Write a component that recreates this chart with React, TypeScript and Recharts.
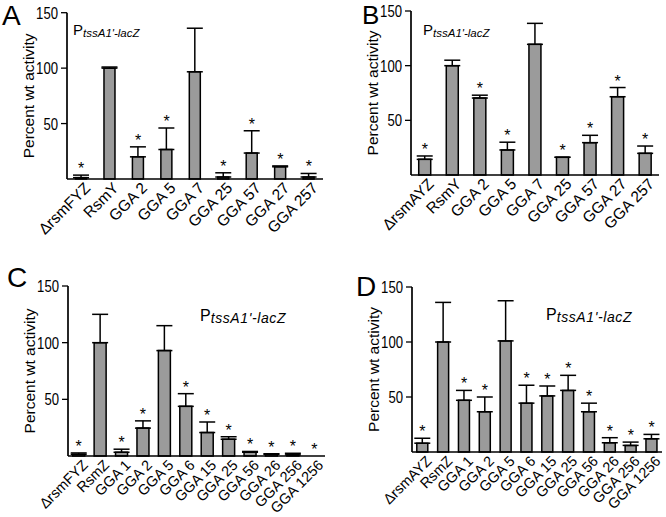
import { ComposedChart, Bar, ErrorBar, Scatter, XAxis, YAxis } from 'recharts'

// panel A
const namesA = ['ΔrsmFYZ', 'RsmY', 'GGA 2', 'GGA 5', 'GGA 7', 'GGA 25', 'GGA 57', 'GGA 27', 'GGA 257']
const valuesA = [1.2, 100, 20, 26.6, 96.7, 1.8, 23.4, 11, 1.8]
const errorsA = [2.3, 1, 9, 19.4, 39.3, 3.8, 20.1, 0.8, 3.2]
const starsA = [1, 0, 1, 1, 0, 1, 1, 1, 1]

// panel B
const namesB = ['ΔrsmAYZ', 'RsmY', 'GGA 2', 'GGA 5', 'GGA 7', 'GGA 25', 'GGA 57', 'GGA 27', 'GGA 257']
const valuesB = [14.3, 100, 70.4, 22.9, 119.5, 16.2, 29.6, 71.6, 19.8]
const errorsB = [3.1, 5, 2.6, 7.1, 19.2, 0, 6.7, 8.4, 6.7]
const starsB = [1, 0, 1, 1, 0, 1, 1, 1, 1]

// panel C
const namesC = ['ΔrsmFYZ', 'RsmZ', 'GGA 1', 'GGA 2', 'GGA 5', 'GGA 6', 'GGA 15', 'GGA 25', 'GGA 56', 'GGA 26', 'GGA 256', 'GGA 1256']
const valuesC = [1.5, 100, 3.3, 24.6, 93, 43.8, 20.7, 14.8, 3.3, 1.5, 1, 0]
const errorsC = [1.2, 25, 2.7, 6.4, 22, 11.2, 9.3, 2.2, 0.7, 0.5, 1.4, 0]
const starsC = [1, 0, 1, 1, 0, 1, 1, 1, 1, 1, 1, 1]

// panel D
const namesD = ['ΔrsmAYZ', 'RsmZ', 'GGA 1', 'GGA 2', 'GGA 5', 'GGA 6', 'GGA 15', 'GGA 25', 'GGA 56', 'GGA 26', 'GGA 256', 'GGA 1256']
const valuesD = [8, 100, 47, 36.6, 101, 44.4, 51, 56, 36.6, 8.4, 6, 12]
const errorsD = [4.5, 36, 9, 13.4, 36.5, 16.3, 9, 13.7, 7.8, 4.6, 3, 4]
const starsD = [1, 0, 1, 1, 0, 1, 1, 1, 1, 1, 1, 1]

const yTicks = [50, 100, 150]

const FONT = "'Liberation Sans', Arial, sans-serif"

function buildRows(names: string[], values: number[], errors: number[], stars: number[]) {
  return names.map((name, i) => ({
    name,
    value: values[i],
    err: [0, errors[i]],
    cap: values[i] + errors[i],
    star: stars[i] === 1,
  }))
}

function XTick({ x, y, payload, size }: any) {
  const tx = x + 10
  const ty = y + 10
  return (
    <text
      x={tx}
      y={ty}
      transform={`rotate(-45 ${tx} ${ty})`}
      textAnchor="end"
      fontSize={size}
      fontFamily={FONT}
      fill="#000"
    >
      {payload.value}
    </text>
  )
}

// tick digits in the figure are condensed, so squeeze them a bit
function YTick({ x, y, payload }: any) {
  const label = String(payload.value)
  return (
    <text
      x={x}
      y={y}
      dy="0.36em"
      textAnchor="end"
      fontSize={17}
      fontFamily={FONT}
      fill="#000"
      textLength={label.length * 7.3}
      lengthAdjust="spacingAndGlyphs"
    >
      {label}
    </text>
  )
}

function Star({ cx, cy, payload }: any) {
  if (!payload || !payload.star) return <g />
  return (
    <text x={cx} y={cy - 1} textAnchor="middle" fontSize={16} fontFamily={FONT} fill="#000">
      *
    </text>
  )
}

interface PanelProps {
  rows: any[]
  left: number
  top: number
  width: number
  height: number
  margin: { top: number; right: number; bottom: number; left: number }
  gap: string
  letter: string
  letterPos: [number, number]
  letterSize: number
  promoterPos: [number, number]
  big?: boolean
}

function Panel({ rows, left, top, width, height, margin, gap, letter, letterPos, letterSize, promoterPos, big }: PanelProps) {
  const plotLeft = margin.left + 40
  const plotTop = margin.top
  const plotBottom = height - margin.bottom - 60
  const labelX = plotLeft - 33
  const labelY = (plotTop + plotBottom) / 2
  return (
    <div style={{ position: 'absolute', left, top, width, height }}>
      <ComposedChart width={width} height={height} data={rows} margin={margin} barCategoryGap={gap}>
        <XAxis
          dataKey="name"
          interval={0}
          height={60}
          tickLine={false}
          tickSize={0}
          tickMargin={0}
          tick={<XTick size={big ? 14.5 : 15.5} />}
          axisLine={{ stroke: '#000', strokeWidth: 1.7 }}
        />
        <XAxis xAxisId="top" dataKey="name" orientation="top" height={0} tick={false} tickLine={false} axisLine={{ stroke: '#000', strokeWidth: 1.7 }} />
        <YAxis
          domain={[0, 150]}
          ticks={yTicks}
          width={40}
          tickSize={6}
          tickMargin={3}
          tick={<YTick />}
          tickLine={{ stroke: '#000', strokeWidth: 1.3 }}
          axisLine={{ stroke: '#000', strokeWidth: 1.7 }}
        />
        <YAxis yAxisId="right" orientation="right" domain={[0, 150]} width={0} tick={false} tickLine={false} axisLine={{ stroke: '#000', strokeWidth: 1.7 }} />
        <Bar dataKey="value" fill="#9b9b9b" stroke="#000" strokeWidth={1.5} isAnimationActive={false}>
          <ErrorBar dataKey="err" direction="y" width={8} stroke="#000" strokeWidth={1.5} />
        </Bar>
        <Scatter dataKey="cap" fill="#000" shape={<Star />} isAnimationActive={false} />
      </ComposedChart>
      <svg width={width} height={height} style={{ position: 'absolute', left: 0, top: 0, pointerEvents: 'none', overflow: 'visible' }}>
        <text x={letterPos[0]} y={letterPos[1]} fontSize={letterSize} fontFamily={FONT} fill="#000">
          {letter}
        </text>
        <text x={promoterPos[0]} y={promoterPos[1]} fontSize={big ? 16 : 15} fontFamily={FONT} fill="#000">
          P
          <tspan fontSize={big ? 14 : 11.5} letterSpacing={big ? 0.6 : 0} fontStyle="italic" dy={2}>
            tssA1'-lacZ
          </tspan>
        </text>
        <text
          x={labelX}
          y={labelY}
          transform={`rotate(-90 ${labelX} ${labelY})`}
          textAnchor="middle"
          fontSize={15.5}
          fontFamily={FONT}
          fill="#000"
        >
          Percent wt activity
        </text>
      </svg>
    </div>
  )
}

export default function App() {
  const rowsA = buildRows(namesA, valuesA, errorsA, starsA)
  const rowsB = buildRows(namesB, valuesB, errorsB, starsB)
  const rowsC = buildRows(namesC, valuesC, errorsC, starsC)
  const rowsD = buildRows(namesD, valuesD, errorsD, starsD)
  return (
    <div style={{ position: 'absolute', left: 0, top: 0, width: 666, height: 517, background: '#fff' }}>
      <Panel
        rows={rowsA}
        left={0}
        top={0}
        width={333}
        height={258}
        margin={{ top: 12.7, right: 10, bottom: 19, left: 27 }}
        gap="30%"
        letter="A"
        letterPos={[2, 25]}
        letterSize={28}
        promoterPos={[73, 35]}
      />
      <Panel
        rows={rowsB}
        left={333}
        top={0}
        width={333}
        height={258}
        margin={{ top: 11, right: 7, bottom: 23, left: 38 }}
        gap="28%"
        letter="B"
        letterPos={[29, 24]}
        letterSize={26}
        promoterPos={[90, 35]}
      />
      <Panel
        rows={rowsC}
        left={0}
        top={258}
        width={333}
        height={259}
        margin={{ top: 28, right: 8, bottom: 1, left: 28 }}
        gap="22%"
        letter="C"
        letterPos={[7, 29]}
        letterSize={28}
        promoterPos={[200, 63]}
        big
      />
      <Panel
        rows={rowsD}
        left={333}
        top={258}
        width={333}
        height={259}
        margin={{ top: 29, right: 4, bottom: 5, left: 39 }}
        gap="23%"
        letter="D"
        letterPos={[23, 38]}
        letterSize={28}
        promoterPos={[213, 62]}
        big
      />
    </div>
  )
}
